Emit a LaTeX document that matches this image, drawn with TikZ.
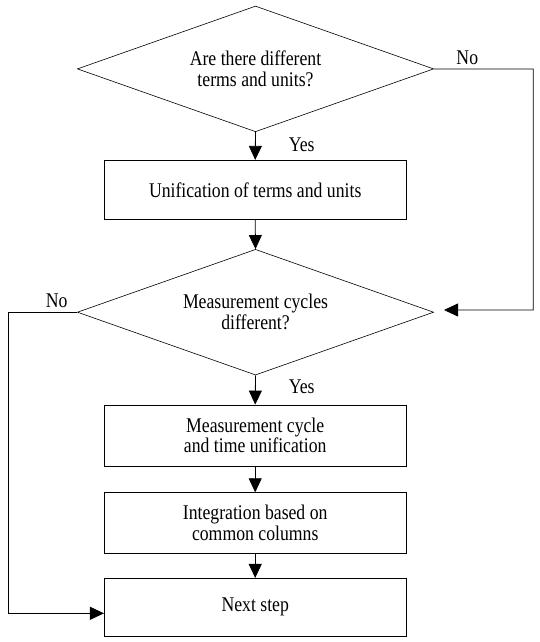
\documentclass[tikz,border=0pt]{standalone}
\usepackage{fontspec}
\usepackage{graphicx}
\setmainfont{Liberation Serif}
\usetikzlibrary{shapes.geometric,arrows.meta}
\newcommand{\stretchtxt}[1]{\scalebox{1}[1.18]{#1}}
\begin{document}
\begin{tikzpicture}[x=1pt,y=-1pt,
  every node/.style={font=\fontsize{17.7}{20.7}\selectfont},
  dec/.style={draw,diamond,aspect=2.83,inner sep=0pt,line width=0.6pt,align=center,minimum width=356.3pt,minimum height=125.7pt},
  proc/.style={draw,rectangle,minimum width=301.7pt,inner sep=0pt,line width=0.8pt,align=center},
  conn/.style={line width=0.8pt,-{Triangle[length=14pt,width=13pt]}},
  lbl/.style={inner sep=0pt}]
\useasboundingbox (0,0) rectangle (539,642);
\node[dec] (d1) at (255.5,68.9) {\stretchtxt{Are there different}\\\stretchtxt{terms and units?}};
\node[proc,minimum height=59pt] (b1) at (255.2,189.8) {\stretchtxt{Unification of terms and units}};
\node[dec] (d2) at (255.5,312.2) {\stretchtxt{Measurement cycles}\\\stretchtxt{different?}};
\node[proc,minimum height=61pt] (b2) at (255.2,435.5) {\stretchtxt{Measurement cycle}\\\stretchtxt{and time unification}};
\node[proc,minimum height=60.6pt] (b3) at (255.2,523) {\stretchtxt{Integration based on}\\\stretchtxt{common columns}};
\node[proc,minimum height=57.7pt] (b4) at (255.2,607.2) {\stretchtxt{Next step}};
\coordinate (r1) at (533.3,69);
\coordinate (r2) at (533.3,310);
\coordinate (t2) at (444,310);
\coordinate (l1) at (8.3,312.2);
\coordinate (l2) at (8.3,613.3);
\draw[conn] (d1.south) -- (b1.north);
\draw[conn] (b1.south) -- (d2.north);
\draw[conn] (d2.south) -- (b2.north);
\draw[conn] (b2.south) -- (b3.north);
\draw[conn] (b3.south) -- (b4.north);
\draw[conn] (d1.east) -- (r1) -- (r2) -- (t2);
\draw[conn] (d2.west) -- (l1) -- (l2) -- (b4.west |- l2);
\node[lbl] (y1) at (301.7,145) {\stretchtxt{Yes}};
\node[lbl] (y2) at (301.7,386.7) {\stretchtxt{Yes}};
\node[lbl] (n1) at (467.3,57.3) {\stretchtxt{No}};
\node[lbl] (n2) at (56.7,301) {\stretchtxt{No}};
\end{tikzpicture}
\end{document}
